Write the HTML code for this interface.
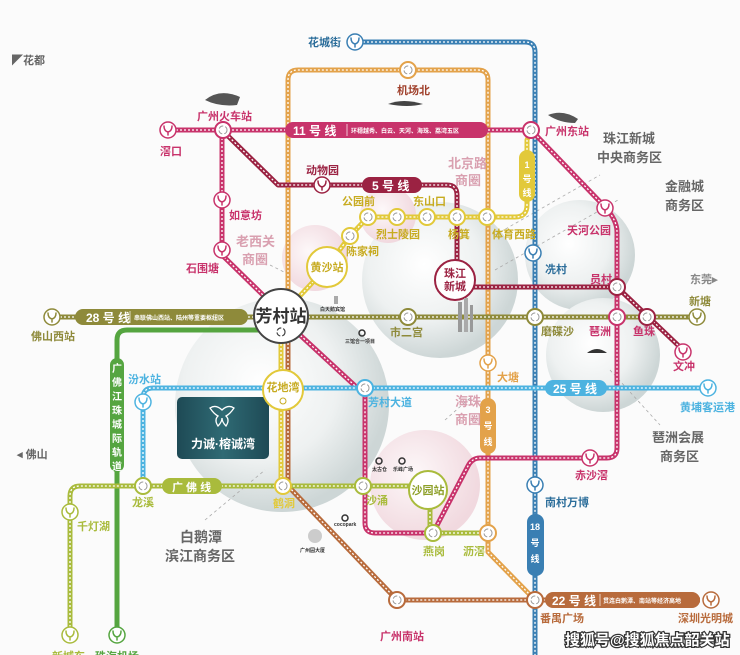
<!DOCTYPE html>
<html><head><meta charset="utf-8"><style>
html,body{margin:0;padding:0;background:#fbfbfb}
svg{display:block}
text{font-family:"Liberation Sans","Noto Sans CJK SC",sans-serif;font-weight:bold}
.l{fill:none;stroke-width:5;stroke-linejoin:round}
.d{fill:none;stroke:#fff;stroke-width:1.3;stroke-dasharray:2 2;stroke-linejoin:round}
</style></head><body>
<svg width="740" height="655" viewBox="0 0 740 655" xmlns="http://www.w3.org/2000/svg">
<defs>
<radialGradient id="gs" cx="40%" cy="40%" r="60%"><stop offset="0" stop-color="#ffffff"/><stop offset="0.6" stop-color="#eef1f1"/><stop offset="1" stop-color="#cdd6d6"/></radialGradient>
<radialGradient id="gp" cx="40%" cy="40%" r="60%"><stop offset="0" stop-color="#fdf8f9"/><stop offset="1" stop-color="#f1d9df"/></radialGradient>
<linearGradient id="lg" x1="0" y1="0" x2="1" y2="0"><stop offset="0" stop-color="#1e4a55"/><stop offset="0.5" stop-color="#2f6a74"/><stop offset="1" stop-color="#1e4a55"/></linearGradient>
</defs>
<rect width="740" height="655" fill="#fbfbfb"/>
<!-- spheres -->
<circle cx="440" cy="280" r="78" fill="url(#gs)"/>
<circle cx="580" cy="255" r="55" fill="url(#gs)"/>
<circle cx="603" cy="355" r="57" fill="url(#gs)"/>
<circle cx="282" cy="405" r="107" fill="url(#gs)"/>
<circle cx="315" cy="258" r="33" fill="url(#gp)"/>
<circle cx="388" cy="215" r="28" fill="url(#gp)"/>
<circle cx="425" cy="485" r="55" fill="url(#gp)"/>
<!-- dashed leader lines -->
<g stroke="#aaa" stroke-width="0.8" stroke-dasharray="3 3" fill="none">
<path d="M495,235 L600,175"/><path d="M495,270 L618,200"/><path d="M610,370 L660,425"/><path d="M205,520 L265,470"/><path d="M445,420 L470,398"/><path d="M270,265 L290,275"/>
</g>
<!-- lines -->
<path class="l" stroke="#55a540" d="M300,330 H127 Q117,330 117,340 V635" stroke-width="5"/>
<path class="l" stroke="#3a7fb3" d="M355,42 H525 Q535,42 535,52 V655"/><path class="d" d="M355,42 H525 Q535,42 535,52 V655"/>
<path class="l" stroke="#e3a24a" d="M288,300 V80 Q288,70 298,70 H478 Q488,70 488,80 V552 L535,600"/><path class="d" d="M288,300 V80 Q288,70 298,70 H478 Q488,70 488,80 V552 L535,600"/>
<path class="l" stroke="#b86b3c" d="M288,335 V486 L397,600 H700"/><path class="d" d="M288,335 V486 L397,600 H700"/>
<path class="l" stroke="#e2c93a" d="M281,340 V486"/><path class="d" d="M281,340 V486"/>
<path class="l" stroke="#e2c93a" d="M282,315 L327,267 L350,236 L368,217 H515 Q527,217 527,205 V140 L531,130"/><path class="d" d="M282,315 L327,267 L350,236 L368,217 H515 Q527,217 527,205 V140 L531,130"/>
<path class="l" stroke="#c8336b" d="M168,130 H531 L605,207 Q617,220 617,232 V448 Q617,458 607,458 H480 Q472,458 468,466 L433,533 H375 Q365,533 365,523 V395 L300,335"/><path class="d" d="M168,130 H531 L605,207 Q617,220 617,232 V448 Q617,458 607,458 H480 Q472,458 468,466 L433,533 H375 Q365,533 365,523 V395 L300,335"/>
<path class="l" stroke="#c8336b" d="M222,130 V255 L266,298"/><path class="d" d="M222,130 V255 L266,298"/>
<path class="l" stroke="#9b2242" d="M226,134 L278,185 H447 Q457,185 457,195 V287 H617 L683,350"/><path class="d" d="M226,134 L278,185 H447 Q457,185 457,195 V287 H617 L683,350"/>
<path class="l" stroke="#8e8a3a" d="M52,317 H705"/><path class="d" d="M52,317 H705"/>
<path class="l" stroke="#4db3e0" d="M143,486 V398 Q143,388 153,388 H708"/><path class="d" d="M143,486 V398 Q143,388 153,388 H708"/>
<path class="l" stroke="#a9bb3c" d="M70,635 V496 Q70,486 80,486 H428 M430,500 V533 H488"/><path class="d" d="M70,635 V496 Q70,486 80,486 H428 M430,500 V533 H488"/>
<!-- line labels -->
<rect x="285" y="122" width="203" height="16" rx="8" fill="#c8336b"/>
<text x="293" y="135" font-size="12" fill="#fff" font-weight="normal">11 号 线</text>
<line x1="347" y1="124" x2="347" y2="136" stroke="#fff" stroke-width="0.7"/>
<text x="351" y="133" font-size="6" fill="#fff">环穗越秀、白云、天河、海珠、荔湾五区</text>
<rect x="362" y="177" width="60" height="16" rx="8" fill="#9b2242"/>
<text x="372" y="190" font-size="12" fill="#fff" font-weight="normal">5 号 线</text>
<rect x="519" y="150" width="16" height="52" rx="8" fill="#e2c93a"/>
<text x="527" y="168" font-size="9" fill="#fff" text-anchor="middle">1</text><text x="527" y="182" font-size="9" fill="#fff" text-anchor="middle">号</text><text x="527" y="196" font-size="9" fill="#fff" text-anchor="middle">线</text>
<rect x="75" y="309" width="173" height="16" rx="8" fill="#8e8a3a"/>
<text x="86" y="322" font-size="12" fill="#fff" font-weight="normal">28 号 线</text>
<line x1="130" y1="311" x2="130" y2="323" stroke="#fff" stroke-width="0.7"/>
<text x="134" y="320" font-size="6" fill="#fff">串联佛山西站、陆州等重要枢纽区</text>
<rect x="110" y="358" width="14" height="114" rx="7" fill="#55a540"/>
<text font-size="10" fill="#fff" text-anchor="middle"><tspan x="117" y="372">广</tspan><tspan x="117" y="386">佛</tspan><tspan x="117" y="400">江</tspan><tspan x="117" y="414">珠</tspan><tspan x="117" y="428">城</tspan><tspan x="117" y="442">际</tspan><tspan x="117" y="456">轨</tspan><tspan x="117" y="470">道</tspan></text>
<rect x="545" y="380" width="62" height="16" rx="8" fill="#4db3e0"/>
<text x="553" y="393" font-size="12" fill="#fff" font-weight="normal">25 号 线</text>
<rect x="480" y="398" width="16" height="56" rx="8" fill="#e3a24a"/>
<text font-size="9" fill="#fff" text-anchor="middle"><tspan x="488" y="413">3</tspan><tspan x="488" y="429">号</tspan><tspan x="488" y="445">线</tspan></text>
<rect x="527" y="514" width="17" height="62" rx="8" fill="#3a7fb3"/>
<text font-size="9" fill="#fff" text-anchor="middle"><tspan x="535" y="530">18</tspan><tspan x="535" y="546">号</tspan><tspan x="535" y="562">线</tspan></text>
<rect x="162" y="478" width="60" height="16" rx="8" fill="#a9bb3c"/>
<text x="172" y="491" font-size="11" fill="#fff" font-weight="normal">广 佛 线</text>
<rect x="545" y="592" width="155" height="16" rx="8" fill="#b86b3c"/>
<text x="552" y="605" font-size="12" fill="#fff" font-weight="normal">22 号 线</text>
<line x1="600" y1="594" x2="600" y2="606" stroke="#fff" stroke-width="0.7"/>
<text x="603" y="603" font-size="6" fill="#fff">贯连白鹅潭、南站等经济高地</text>
<!-- logo box -->
<rect x="177" y="397" width="92" height="62" rx="5" fill="url(#lg)"/>
<path d="M210,408 q6,-4 12,2 q6,-6 12,-2 q-4,6 -8,8 q4,4 0,10 q-4,-4 -4,-8 q0,4 -4,8 q-4,-6 0,-10 q-4,-2 -8,-8z" fill="none" stroke="#fff" stroke-width="1.3"/>
<text x="223" y="448" font-size="12" fill="#fff" text-anchor="middle" font-family="'Noto Serif CJK SC',serif">力诚·榕诚湾</text>
<!-- metro icons -->
<g fill="#fff" stroke-width="1.5">
<g stroke="#3a7fb3"><circle cx="355" cy="42" r="8"/><circle cx="533" cy="253" r="8"/><circle cx="535" cy="485" r="8"/></g>
<g stroke="#c8336b"><circle cx="168" cy="130" r="8"/><circle cx="222" cy="200" r="8"/><circle cx="222" cy="250" r="8"/><circle cx="605" cy="208" r="8"/><circle cx="590" cy="458" r="8"/><circle cx="683" cy="352" r="8"/></g>
<g stroke="#9b2242"><circle cx="322" cy="185" r="8"/></g>
<g stroke="#8e8a3a"><circle cx="52" cy="317" r="8"/><circle cx="697" cy="317" r="8"/></g>
<g stroke="#4db3e0"><circle cx="143" cy="402" r="8"/><circle cx="708" cy="388" r="8"/></g>
<g stroke="#a9bb3c"><circle cx="70" cy="512" r="8"/><circle cx="70" cy="635" r="8"/></g>
<g stroke="#55a540"><circle cx="117" cy="635" r="8"/></g>
<g stroke="#e3a24a"><circle cx="488" cy="363" r="8"/></g>
<g stroke="#b86b3c"><circle cx="711" cy="600" r="8"/></g>
</g>
<g fill="none" stroke-width="1.5" stroke-linecap="round">
<path stroke="#3a7fb3" d="M351,38 Q351,43 355,44 V47 M359,38 Q359,43 355,44 M529,249 Q529,254 533,255 V258 M537,249 Q537,254 533,255 M531,481 Q531,486 535,487 V490 M539,481 Q539,486 535,487"/>
<path stroke="#c8336b" d="M164,126 Q164,131 168,132 V135 M172,126 Q172,131 168,132 M218,196 Q218,201 222,202 V205 M226,196 Q226,201 222,202 M218,246 Q218,251 222,252 V255 M226,246 Q226,251 222,252 M601,204 Q601,209 605,210 V213 M609,204 Q609,209 605,210 M586,454 Q586,459 590,460 V463 M594,454 Q594,459 590,460 M679,348 Q679,353 683,354 V357 M687,348 Q687,353 683,354"/>
<path stroke="#9b2242" d="M318,181 Q318,186 322,187 V190 M326,181 Q326,186 322,187"/>
<path stroke="#8e8a3a" d="M48,313 Q48,318 52,319 V322 M56,313 Q56,318 52,319 M693,313 Q693,318 697,319 V322 M701,313 Q701,318 697,319"/>
<path stroke="#4db3e0" d="M139,398 Q139,403 143,404 V407 M147,398 Q147,403 143,404 M704,384 Q704,389 708,390 V393 M712,384 Q712,389 708,390"/>
<path stroke="#a9bb3c" d="M66,508 Q66,513 70,514 V517 M74,508 Q74,513 70,514 M66,631 Q66,636 70,637 V640 M74,631 Q74,636 70,637"/>
<path stroke="#55a540" d="M113,631 Q113,636 117,637 V640 M121,631 Q121,636 117,637"/>
<path stroke="#e3a24a" d="M484,359 Q484,364 488,365 V368 M492,359 Q492,364 488,365"/>
<path stroke="#b86b3c" d="M707,596 Q707,601 711,602 V605 M715,596 Q715,601 711,602"/>
</g>
<!-- transfer stations -->
<g fill="#fff" stroke-width="2">
<circle cx="223" cy="130" r="8" stroke="#c8336b"/><circle cx="531" cy="130" r="8" stroke="#c8336b"/>
<circle cx="408" cy="70" r="8" stroke="#e3a24a"/>
<circle cx="350" cy="236" r="8" stroke="#e2c93a"/><circle cx="368" cy="217" r="8" stroke="#e2c93a"/><circle cx="397" cy="217" r="8" stroke="#e2c93a"/><circle cx="427" cy="217" r="8" stroke="#e2c93a"/><circle cx="457" cy="217" r="8" stroke="#e2c93a"/><circle cx="487" cy="217" r="8" stroke="#e2c93a"/>
<circle cx="408" cy="317" r="8" stroke="#8e8a3a"/><circle cx="535" cy="317" r="8" stroke="#8e8a3a"/><circle cx="617" cy="317" r="8" stroke="#c8336b"/><circle cx="647" cy="317" r="8" stroke="#9b2242"/><circle cx="617" cy="287" r="8" stroke="#9b2242"/>
<circle cx="365" cy="388" r="8" stroke="#4db3e0"/>
<circle cx="143" cy="486" r="8" stroke="#a9bb3c"/><circle cx="283" cy="486" r="8" stroke="#e2c93a"/><circle cx="363" cy="486" r="8" stroke="#a9bb3c"/>
<circle cx="433" cy="533" r="8" stroke="#a9bb3c"/><circle cx="488" cy="533" r="8" stroke="#e3a24a"/>
<circle cx="397" cy="600" r="8" stroke="#b86b3c"/><circle cx="535" cy="600" r="8" stroke="#b86b3c"/>
</g>
<g fill="none" stroke="#999" stroke-width="1" stroke-dasharray="5 2">
<circle cx="223" cy="130" r="4"/><circle cx="531" cy="130" r="4"/><circle cx="408" cy="70" r="4"/><circle cx="350" cy="236" r="4"/><circle cx="368" cy="217" r="4"/><circle cx="397" cy="217" r="4"/><circle cx="427" cy="217" r="4"/><circle cx="457" cy="217" r="4"/><circle cx="487" cy="217" r="4"/><circle cx="408" cy="317" r="4"/><circle cx="535" cy="317" r="4"/><circle cx="617" cy="317" r="4"/><circle cx="647" cy="317" r="4"/><circle cx="617" cy="287" r="4"/><circle cx="365" cy="388" r="4"/><circle cx="143" cy="486" r="4"/><circle cx="283" cy="486" r="4"/><circle cx="363" cy="486" r="4"/><circle cx="433" cy="533" r="4"/><circle cx="488" cy="533" r="4"/><circle cx="397" cy="600" r="4"/><circle cx="535" cy="600" r="4"/>
</g>
<!-- big stations -->
<circle cx="281" cy="316" r="27" fill="#fff" stroke="#444" stroke-width="2"/>
<text x="281" y="322" font-size="17" fill="#333" text-anchor="middle">芳村站</text>
<circle cx="281" cy="332" r="4" fill="none" stroke="#444" stroke-width="1.2" stroke-dasharray="5 2"/>
<circle cx="327" cy="267" r="20" fill="#fff" stroke="#e2c93a" stroke-width="2"/>
<text x="327" y="271" font-size="11" fill="#c7ab20" text-anchor="middle">黄沙站</text>
<circle cx="455" cy="280" r="20" fill="#fff" stroke="#9b2242" stroke-width="2"/>
<text x="455" y="277" font-size="11" fill="#9b2242" text-anchor="middle">珠江</text><text x="455" y="290" font-size="11" fill="#9b2242" text-anchor="middle">新城</text>
<circle cx="283" cy="390" r="20" fill="#fff" stroke="#e2c93a" stroke-width="2"/>
<text x="283" y="391" font-size="11" fill="#c7ab20" text-anchor="middle">花地湾</text>
<circle cx="283" cy="401" r="3" fill="none" stroke="#c7ab20" stroke-width="1"/>
<circle cx="428" cy="490" r="19" fill="#fff" stroke="#a9bb3c" stroke-width="2"/>
<text x="428" y="494" font-size="11" fill="#8ea02a" text-anchor="middle">沙园站</text>
<!-- landmarks -->
<path d="M205,100 q15,-12 35,-3 l-3,8 q-18,2 -32,-5z" fill="#555"/>
<path d="M388,104 q15,-6 35,0 q-15,4 -35,0z" fill="#444"/>
<path d="M548,115 q15,-6 30,4 l-3,4 q-15,0 -27,-8z" fill="#555"/>
<path d="M587,353 q10,-8 20,0z" fill="#333"/>
<rect x="458" y="302" width="4" height="30" fill="#999"/><rect x="464" y="298" width="4" height="34" fill="#aaa"/><rect x="470" y="305" width="3" height="27" fill="#999"/>
<rect x="334" y="296" width="4" height="8" fill="#aaa"/>
<circle cx="362" cy="333" r="3" fill="none" stroke="#333" stroke-width="1.5"/>
<circle cx="379" cy="461" r="3" fill="none" stroke="#333" stroke-width="1.5"/><circle cx="402" cy="461" r="3" fill="none" stroke="#333" stroke-width="1.5"/>
<circle cx="345" cy="518" r="3" fill="none" stroke="#333" stroke-width="1.5"/>
<circle cx="315" cy="536" r="7" fill="#ccc"/>
<g font-size="5" fill="#333" font-weight="normal"><text x="320" y="311">白天鹅宾馆</text><text x="345" y="343">三馆合一项目</text><text x="372" y="471">太古仓</text><text x="393" y="471">乐峰广场</text><text x="334" y="526">cocopark</text><text x="300" y="552">广州圆大厦</text></g>
<!-- labels -->
<g font-size="11">
<text x="12" y="64" fill="#666" font-weight="normal">◤花都</text>
<text x="308" y="46" fill="#2b6d9a">花城街</text>
<text x="197" y="120" fill="#c8336b">广州火车站</text>
<text x="160" y="155" fill="#c8336b">滘口</text>
<text x="306" y="174" fill="#9b2242">动物园</text>
<text x="229" y="219" fill="#c8336b">如意坊</text>
<text x="186" y="272" fill="#c8336b">石围塘</text>
<text x="397" y="94" fill="#a0402b">机场北</text>
<text x="545" y="135" fill="#c8336b">广州东站</text>
<text x="342" y="205" fill="#c7ab20">公园前</text>
<text x="413" y="205" fill="#c7ab20">东山口</text>
<text x="376" y="238" fill="#c7ab20">烈士陵园</text>
<text x="346" y="255" fill="#c7ab20">陈家祠</text>
<text x="448" y="238" fill="#c7ab20">杨箕</text>
<text x="492" y="238" fill="#c7ab20">体育西路</text>
<text x="545" y="273" fill="#2b6d9a">冼村</text>
<text x="567" y="234" fill="#c8336b">天河公园</text>
<text x="590" y="283" fill="#c8336b">员村</text>
<text x="690" y="283" fill="#888" font-weight="normal">东莞▸</text>
<text x="689" y="305" fill="#8e8a3a">新塘</text>
<text x="541" y="335" fill="#8e8a3a">磨碟沙</text>
<text x="589" y="335" fill="#c8336b">琶洲</text>
<text x="633" y="335" fill="#c8336b">鱼珠</text>
<text x="673" y="370" fill="#c8336b">文冲</text>
<text x="390" y="336" fill="#8e8a3a">市二宫</text>
<text x="31" y="340" fill="#8e8a3a">佛山西站</text>
<text x="128" y="383" fill="#4db3e0">汾水站</text>
<text x="368" y="406" fill="#4db3e0">芳村大道</text>
<text x="497" y="381" fill="#e3a24a">大塘</text>
<text x="680" y="411" fill="#4db3e0">黄埔客运港</text>
<text x="575" y="479" fill="#c8336b">赤沙滘</text>
<text x="17" y="458" fill="#666" font-weight="normal">◂ 佛山</text>
<text x="132" y="506" fill="#a9bb3c">龙溪</text>
<text x="77" y="530" fill="#a9bb3c">千灯湖</text>
<text x="273" y="507" fill="#e2c93a">鹤洞</text>
<text x="366" y="504" fill="#a9bb3c">沙涌</text>
<text x="423" y="555" fill="#a9bb3c">燕岗</text>
<text x="463" y="555" fill="#a9bb3c">沥滘</text>
<text x="545" y="506" fill="#2b6d9a">南村万博</text>
<text x="540" y="622" fill="#b86b3c">番禺广场</text>
<text x="678" y="622" fill="#b86b3c">深圳光明城</text>
<text x="380" y="640" fill="#c8336b">广州南站</text>
<text x="52" y="660" fill="#a9bb3c">新城东</text>
<text x="95" y="660" fill="#55a540">珠海机场</text>
</g>
<g font-size="13" font-weight="normal">
<text x="236" y="246" fill="#d9a0b0">老西关</text><text x="242" y="264" fill="#d9a0b0">商圈</text>
<text x="448" y="168" fill="#d9a0b0">北京路</text><text x="455" y="185" fill="#d9a0b0">商圈</text>
<text x="455" y="406" fill="#d9a0b0">海珠</text><text x="455" y="424" fill="#d9a0b0">商圈</text>
<text x="603" y="143" fill="#666">珠江新城</text><text x="597" y="162" fill="#666">中央商务区</text>
<text x="665" y="191" fill="#666">金融城</text><text x="665" y="210" fill="#666">商务区</text>
<text x="652" y="442" fill="#666">琶洲会展</text><text x="660" y="461" fill="#666">商务区</text>
<text x="180" y="542" fill="#666" font-size="14">白鹅潭</text><text x="165" y="561" fill="#666" font-size="14">滨江商务区</text>
</g>
<text x="565" y="645" font-size="15" fill="#fff" stroke="#333" stroke-width="2.5" paint-order="stroke">搜狐号@搜狐焦点韶关站</text>
</svg>
</body></html>
